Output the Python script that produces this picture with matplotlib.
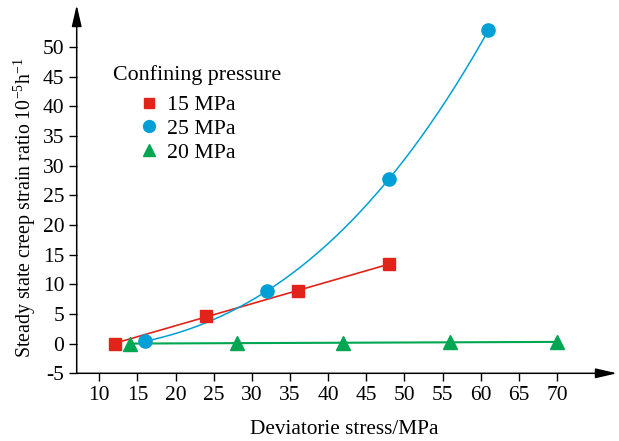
import numpy as np
import matplotlib
matplotlib.use('Agg')
import matplotlib.pyplot as plt

plt.rcParams['font.family'] = ['Liberation Serif', 'DejaVu Serif']
plt.rcParams['mathtext.fontset'] = 'custom'
plt.rcParams['mathtext.rm'] = 'Liberation Serif'
plt.rcParams['mathtext.it'] = 'Liberation Serif:italic'
plt.rcParams['axes.unicode_minus'] = False

# data
x_15 = [12, 24, 36, 48]
y_15 = [0.0, 4.6, 8.9, 13.4]
x_25 = [16, 32, 48, 61]
y_25 = [0.4, 8.9, 27.8, 52.8]
x_20 = [14, 28, 42, 56, 70]
y_20 = [0.0, 0.1, 0.15, 0.2, 0.3]

red = '#E2231A'
blue = '#00A0D6'
green = '#00A651'

W, H = 619, 441
fig = plt.figure(figsize=(W / 100, H / 100), dpi=100)
ax = fig.add_axes([76.7 / W, 1 - 373.3 / H, (617 - 76.7) / W, (373.3 - 5) / H])

# trend lines
fit15 = np.polyfit(x_15, y_15, 1)
xx = np.linspace(min(x_15), max(x_15), 50)
ax.plot(xx, np.polyval(fit15, xx), color=red, lw=1.2)

fit25 = np.polyfit(x_25, y_25, 3)
xx = np.linspace(min(x_25), max(x_25), 200)
ax.plot(xx, np.polyval(fit25, xx), color=blue, lw=1.1)

fit20 = np.polyfit(x_20, y_20, 1)
xx = np.linspace(min(x_20), max(x_20), 50)
ax.plot(xx, np.polyval(fit20, xx), color=green, lw=1.5)

ax.plot(x_15, y_15, 's', color=red, ms=8, ls='none', label='15 MPa', zorder=3)
ax.plot(x_25, y_25, 'o', color=blue, ms=9.5, ls='none', label='25 MPa', zorder=3)
ax.plot(x_20, y_20, '^', color=green, ms=9.5, ls='none', label='20 MPa', zorder=3)

ax.set_xlim(7.04, 77.85)
ax.set_ylim(-5, 57.05)
ax.set_xticks(np.arange(10, 71, 5))
ax.set_yticks(np.arange(-5, 51, 5))
ax.tick_params(direction='out', length=6, width=1, labelsize=15.5, pad=3)

for s in ax.spines.values():
    s.set_visible(False)
arrow = dict(arrowstyle='-|>,head_length=0.65,head_width=0.15', color='k', lw=1.1,
             shrinkA=0, shrinkB=0, mutation_scale=20)
ax.annotate('', xy=(1, 0), xytext=(0, 0), xycoords='axes fraction', arrowprops=arrow)
ax.annotate('', xy=(0, 1), xytext=(0, 0), xycoords='axes fraction', arrowprops=arrow)

fig.text(344 / W, 1 - 429 / H, 'Deviatorie stress/MPa', fontsize=15.3, ha='center', va='center')
fig.text(25 / W, 1 - 208 / H, 'Steady state creep strain ratio 10$^{-5}$h$^{-1}$',
         fontsize=14.3, rotation=90, ha='center', va='center')

leg = ax.legend(loc='upper left', bbox_to_anchor=(140 / W, 1 - 95 / H),
                bbox_transform=fig.transFigure, frameon=False, fontsize=15.7,
                handlelength=0.8, handletextpad=0.45, labelspacing=0.165,
                borderpad=0, borderaxespad=0, markerscale=0.9)
fig.text(113 / W, 1 - 80 / H, 'Confining pressure', fontsize=15.8, ha='left', va='baseline')

fig.savefig('out.png', dpi=100)
